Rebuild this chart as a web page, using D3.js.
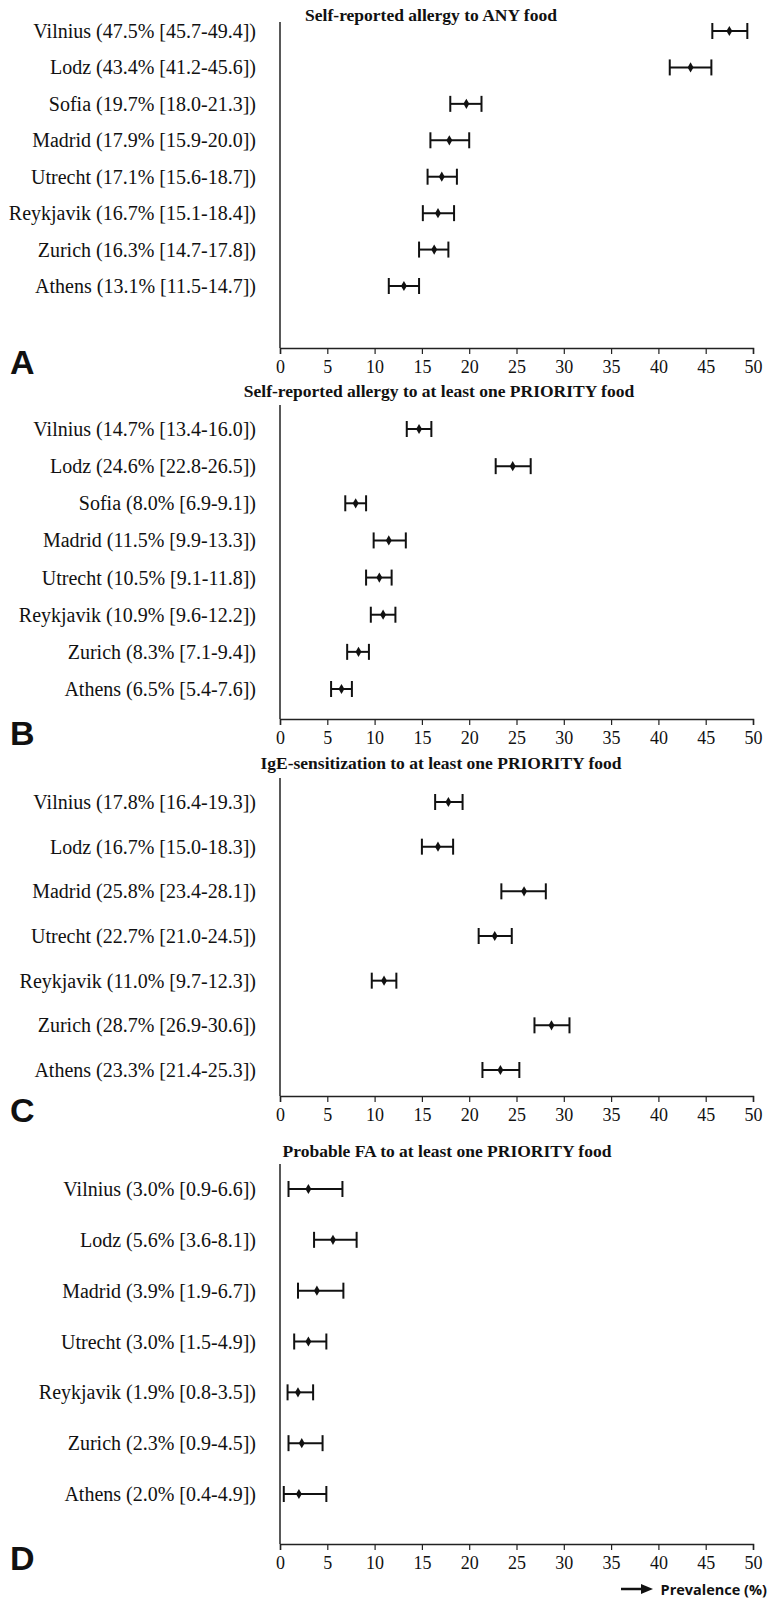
<!DOCTYPE html>
<html>
<head>
<meta charset="utf-8">
<script src="https://cdn.jsdelivr.net/npm/d3@7"></script>
<style>
  body { margin: 0; background: #fff; }
  svg { display: block; }
</style>
</head>
<body>
<svg id="chart" width="769" height="1599"></svg>
<script>
// ---- data ----
var ticks = [0, 5, 10, 15, 20, 25, 30, 35, 40, 45, 50];

var titleA = "Self-reported allergy to ANY food";
var citiesA = ["Vilnius", "Lodz", "Sofia", "Madrid", "Utrecht", "Reykjavik", "Zurich", "Athens"];
var estA = [47.5, 43.4, 19.7, 17.9, 17.1, 16.7, 16.3, 13.1];
var loA  = [45.7, 41.2, 18.0, 15.9, 15.6, 15.1, 14.7, 11.5];
var hiA  = [49.4, 45.6, 21.3, 20.0, 18.7, 18.4, 17.8, 14.7];

var titleB = "Self-reported allergy to at least one PRIORITY food";
var citiesB = ["Vilnius", "Lodz", "Sofia", "Madrid", "Utrecht", "Reykjavik", "Zurich", "Athens"];
var estB = [14.7, 24.6, 8.0, 11.5, 10.5, 10.9, 8.3, 6.5];
var loB  = [13.4, 22.8, 6.9, 9.9, 9.1, 9.6, 7.1, 5.4];
var hiB  = [16.0, 26.5, 9.1, 13.3, 11.8, 12.2, 9.4, 7.6];

var titleC = "IgE-sensitization to at least one PRIORITY food";
var citiesC = ["Vilnius", "Lodz", "Madrid", "Utrecht", "Reykjavik", "Zurich", "Athens"];
var estC = [17.8, 16.7, 25.8, 22.7, 11.0, 28.7, 23.3];
var loC  = [16.4, 15.0, 23.4, 21.0, 9.7, 26.9, 21.4];
var hiC  = [19.3, 18.3, 28.1, 24.5, 12.3, 30.6, 25.3];

var titleD = "Probable FA to at least one PRIORITY food";
var citiesD = ["Vilnius", "Lodz", "Madrid", "Utrecht", "Reykjavik", "Zurich", "Athens"];
var estD = [3.0, 5.6, 3.9, 3.0, 1.9, 2.3, 2.0];
var loD  = [0.9, 3.6, 1.9, 1.5, 0.8, 0.9, 0.4];
var hiD  = [6.6, 8.1, 6.7, 4.9, 3.5, 4.5, 4.9];

var xLabel = "Prevalence (%)";

// ---- layout (one entry per panel) ----
var panels = [
  {letter: "A", title: titleA, cities: citiesA, est: estA, lo: loA, hi: hiA,
   titleX: 431, titleY: 15, top: 22, first: 31, last: 286, axisY: 348},
  {letter: "B", title: titleB, cities: citiesB, est: estB, lo: loB, hi: hiB,
   titleX: 439, titleY: 391, top: 405, first: 429, last: 689, axisY: 719},
  {letter: "C", title: titleC, cities: citiesC, est: estC, lo: loC, hi: hiC,
   titleX: 441, titleY: 763, top: 778, first: 802, last: 1070, axisY: 1096},
  {letter: "D", title: titleD, cities: citiesD, est: estD, lo: loD, hi: hiD,
   titleX: 447, titleY: 1151, top: 1164, first: 1189, last: 1494, axisY: 1544}
];

var svg = d3.select("#chart");
var serif = "Liberation Serif, Times New Roman, serif";
var sans = "Liberation Sans, Arial, sans-serif";

var x = d3.scaleLinear().domain([0, 50]).range([280, 753]);

panels.forEach(function(p) {
  var g = svg.append("g");
  var rows = p.cities.map(function(c, i) {
    return {city: c, est: p.est[i], lo: p.lo[i], hi: p.hi[i]};
  });
  var y = d3.scalePoint().domain(p.cities).range([p.first, p.last]);

  // title
  g.append("text")
    .attr("x", p.titleX).attr("y", p.titleY)
    .attr("text-anchor", "middle").attr("dominant-baseline", "central")
    .attr("font-family", serif).attr("font-weight", "bold").attr("font-size", 17.5)
    .attr("fill", "#111")
    .text(p.title);

  // x axis
  var ax = g.append("g")
    .attr("transform", "translate(0," + p.axisY + ")")
    .call(d3.axisBottom(x).tickValues(ticks).tickSize(6).tickPadding(6).tickFormat(d3.format("d")));
  ax.attr("font-family", serif).attr("font-size", 18);
  ax.select(".domain").attr("stroke", "#222").attr("stroke-width", 1.5);
  ax.selectAll(".tick line").attr("stroke", "#222").attr("stroke-width", 1.2);
  ax.selectAll(".tick text").attr("fill", "#111");

  // y axis line
  g.append("line")
    .attr("x1", x(0)).attr("x2", x(0))
    .attr("y1", p.top).attr("y2", p.axisY)
    .attr("stroke", "#222").attr("stroke-width", 1.5);

  // row labels
  g.selectAll(".lab").data(rows).enter().append("text")
    .attr("class", "lab")
    .attr("x", 256).attr("y", function(d) { return y(d.city); })
    .attr("text-anchor", "end").attr("dominant-baseline", "central")
    .attr("font-family", serif).attr("font-size", 20).attr("fill", "#111")
    .text(function(d) {
      return d.city + " (" + d.est.toFixed(1) + "% [" + d.lo.toFixed(1) + "-" + d.hi.toFixed(1) + "])";
    });

  // error bars
  var eb = g.selectAll(".eb").data(rows).enter().append("g")
    .attr("class", "eb")
    .attr("transform", function(d) { return "translate(0," + y(d.city) + ")"; });
  eb.append("line")
    .attr("x1", function(d) { return x(d.lo); })
    .attr("x2", function(d) { return x(d.hi); })
    .attr("stroke", "#111").attr("stroke-width", 2);
  eb.append("line")
    .attr("x1", function(d) { return x(d.lo); })
    .attr("x2", function(d) { return x(d.lo); })
    .attr("y1", -8).attr("y2", 8)
    .attr("stroke", "#111").attr("stroke-width", 2);
  eb.append("line")
    .attr("x1", function(d) { return x(d.hi); })
    .attr("x2", function(d) { return x(d.hi); })
    .attr("y1", -8).attr("y2", 8)
    .attr("stroke", "#111").attr("stroke-width", 2);
  eb.append("path")
    .attr("d", d3.symbol().type(d3.symbolDiamond).size(30))
    .attr("transform", function(d) { return "translate(" + x(d.est) + ",0)"; })
    .attr("fill", "#111");

  // panel letter
  g.append("text")
    .attr("x", 10).attr("y", p.axisY + 26)
    .attr("font-family", sans).attr("font-weight", "bold").attr("font-size", 34)
    .attr("fill", "#111")
    .text(p.letter);
});

// prevalence arrow + label
var foot = svg.append("g").attr("transform", "translate(0,1589)");
foot.append("line")
  .attr("x1", 621).attr("x2", 643).attr("y1", 0).attr("y2", 0)
  .attr("stroke", "#111").attr("stroke-width", 2.5);
foot.append("path")
  .attr("d", "M641,-5L653,0L641,5Z").attr("fill", "#111");
foot.append("text")
  .attr("x", 767).attr("y", 0).attr("text-anchor", "end").attr("dominant-baseline", "central")
  .attr("font-family", "Open Sans, sans-serif").attr("font-weight", "bold").attr("font-size", 14.5)
  .attr("fill", "#111")
  .text(xLabel);
</script>
</body>
</html>
